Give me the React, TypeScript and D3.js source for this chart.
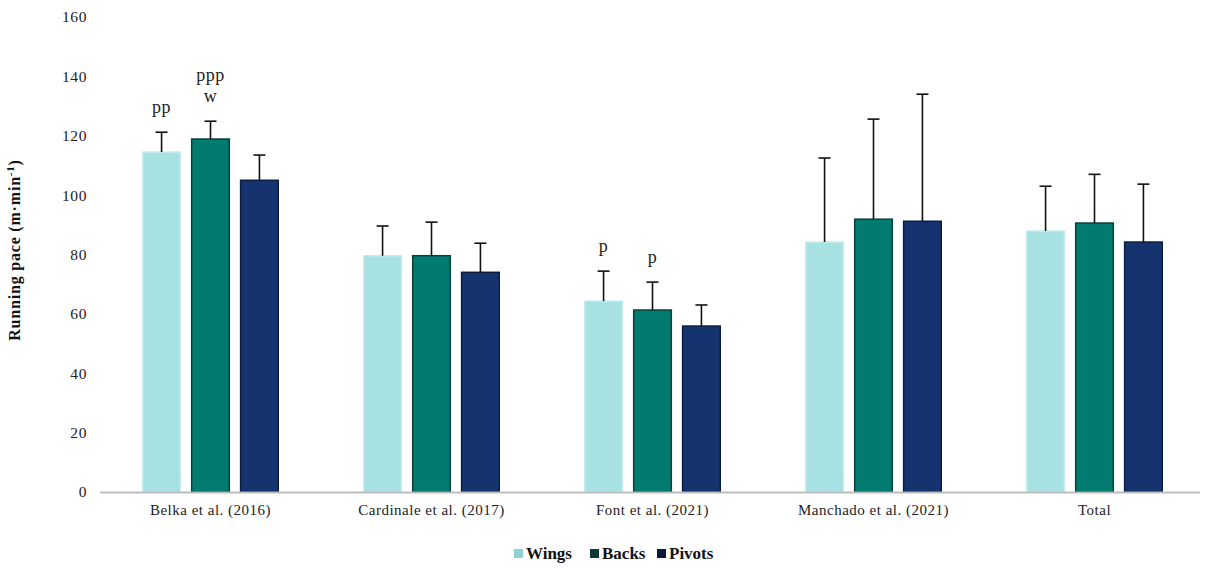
import React, { useRef, useEffect } from 'react';
import * as d3 from 'd3';

const categories = ['Belka et al. (2016)', 'Cardinale et al. (2017)', 'Font et al. (2021)', 'Manchado et al. (2021)', 'Total'];
const positions = ['Wings', 'Backs', 'Pivots'];
const wingsMean = [114.5, 79.6, 64.3, 84.2, 87.9];
const wingsSd = [6.7, 10.0, 10.1, 28.3, 15.1];
const backsMean = [118.9, 79.6, 61.3, 91.9, 90.6];
const backsSd = [6.0, 11.3, 9.4, 33.7, 16.4];
const pivotsMean = [105.0, 74.0, 55.9, 91.2, 84.2];
const pivotsSd = [8.5, 9.8, 7.1, 42.8, 19.5];
const yTicks = [0, 20, 40, 60, 80, 100, 120, 140, 160];
// annotations: [category index, position index, lines]
const notes: [number, number, string[]][] = [
  [0, 0, ['pp']],
  [0, 1, ['ppp', 'w']],
  [2, 0, ['p']],
  [2, 1, ['p']],
];

const fills = ['#a8e1e2', '#017a70', '#15346f'];
const strokes = ['#c4ecec', '#0b3f3a', '#0a1c40'];
const legendFills = ['#8fd0d2', '#0c3a36', '#0b1a36'];

const W = 1207;
const H = 568;

const App = () => {
  const svgRef = useRef<SVGSVGElement>(null);

  useEffect(() => {
    const svg = d3.select(svgRef.current);
    svg.selectAll('*').remove();
    const font = '"Liberation Serif", "DejaVu Serif", serif';

    const means = [wingsMean, backsMean, pivotsMean];
    const sds = [wingsSd, backsSd, pivotsSd];

    const x = d3.scaleBand().domain(categories).range([100, 1205]).padding(0);
    const xi = d3.scaleBand().domain(positions).range([-68.5, 68.5]).paddingInner(0.2);
    const y = d3.scaleLinear().domain([0, 160]).range([492, 17]);

    // y tick labels
    svg.append('g')
      .selectAll('text')
      .data(yTicks)
      .enter()
      .append('text')
      .attr('x', 87)
      .attr('y', d => y(d))
      .attr('dy', '0.35em')
      .attr('text-anchor', 'end')
      .style('font-family', font)
      .style('font-size', '15.5px')
      .style('letter-spacing', '0.6px')
      .style('fill', '#222')
      .text(d => d);

    // bars
    positions.forEach((p, pi) => {
      const g = svg.append('g');
      g.selectAll('rect')
        .data(categories)
        .enter()
        .append('rect')
        .attr('x', (c) => (x(c) as number) + x.bandwidth() / 2 + (xi(p) as number) + 0.75)
        .attr('y', (c, i) => y(means[pi][i]))
        .attr('width', xi.bandwidth() - 1.5)
        .attr('height', (c, i) => y(0) - y(means[pi][i]))
        .attr('fill', fills[pi])
        .attr('stroke', strokes[pi])
        .attr('stroke-width', 1.5);

      // error bars
      categories.forEach((c, i) => {
        const cx = (x(c) as number) + x.bandwidth() / 2 + (xi(p) as number) + xi.bandwidth() / 2;
        const top = y(means[pi][i] + sds[pi][i]);
        g.append('line')
          .attr('x1', cx).attr('x2', cx)
          .attr('y1', y(means[pi][i])).attr('y2', top)
          .attr('stroke', '#111').attr('stroke-width', 1.6);
        g.append('line')
          .attr('x1', cx - 6).attr('x2', cx + 6)
          .attr('y1', top).attr('y2', top)
          .attr('stroke', '#111').attr('stroke-width', 1.6);
      });
    });

    // axis line
    svg.append('line')
      .attr('x1', 100).attr('x2', 1200)
      .attr('y1', y(0) + 0.5).attr('y2', y(0) + 0.5)
      .attr('stroke', '#bdbdbd').attr('stroke-width', 2);

    // category labels
    svg.append('g')
      .selectAll('text')
      .data(categories)
      .enter()
      .append('text')
      .attr('x', c => (x(c) as number) + x.bandwidth() / 2)
      .attr('y', 515)
      .attr('text-anchor', 'middle')
      .style('font-family', font)
      .style('font-size', '15px')
      .style('letter-spacing', '0.5px')
      .style('fill', '#222')
      .text(c => c);

    // annotations
    notes.forEach(([ci, pi, lines]) => {
      const cx = (x(categories[ci]) as number) + x.bandwidth() / 2 + (xi(positions[pi]) as number) + xi.bandwidth() / 2;
      const top = y(means[pi][ci] + sds[pi][ci]);
      lines.forEach((t, li) => {
        svg.append('text')
          .attr('x', cx)
          .attr('y', top - 19 - (lines.length - 1 - li) * 21)
          .attr('text-anchor', 'middle')
          .style('font-family', font)
          .style('font-size', '18px')
          .style('letter-spacing', '0.5px')
          .style('fill', '#222')
          .text(t);
      });
    });

    // y label
    svg.append('text')
      .attr('transform', `translate(20, 250) rotate(-90)`)
      .attr('text-anchor', 'middle')
      .style('font-family', font)
      .style('font-size', '16px')
      .style('letter-spacing', '0.8px')
      .style('font-weight', 'bold')
      .style('fill', '#111')
      .html('Running pace (m·min<tspan dy="-6" font-size="11px">-1</tspan><tspan dy="6">)</tspan>');

    // legend
    const legendX = [514, 590, 657];
    positions.forEach((p, pi) => {
      svg.append('rect')
        .attr('x', legendX[pi]).attr('y', 549)
        .attr('width', 9).attr('height', 9)
        .attr('fill', legendFills[pi]);
      svg.append('text')
        .attr('x', legendX[pi] + 12)
        .attr('y', 559)
        .style('font-family', font)
        .style('font-size', '17px')
        .style('font-weight', 'bold')
        .style('fill', '#111')
        .text(p);
    });
  }, []);

  return (
    <div style={{ position: 'absolute', left: 0, top: 0 }}>
      <svg ref={svgRef} width={W} height={H} style={{ background: '#fff', display: 'block' }} />
    </div>
  );
};

export default App;
